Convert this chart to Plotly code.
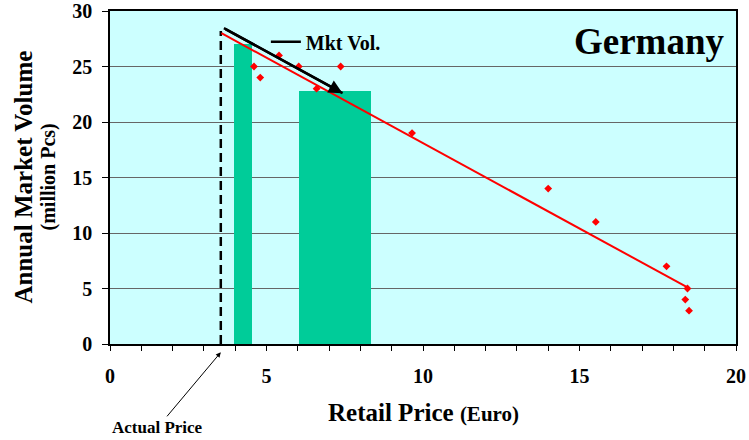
import plotly.graph_objects as go

# Observed retail price / market volume pairs
price = [4.6, 4.8, 5.4, 6.03, 6.6, 7.37, 9.65, 14.0, 15.52, 17.78, 18.45, 18.38, 18.5]
volume = [25, 24, 26, 25, 23, 25, 19, 14, 11, 7, 5, 4, 3]

# Linear trend fitted through the observations
trend_price = [3.56, 18.45]
trend_volume = [28.0, 5.1]

# Market volume segments (price band -> volume)
band_left = [3.96, 6.03]
band_right = [4.53, 8.33]
band_volume = [27.0, 22.8]

# Market volume arrow and current price
mkt_price = [3.64, 7.43]
mkt_volume = [28.45, 22.6]
actual_price = 3.54
actual_top = 28.2

SERIF = "Liberation Serif"
TEAL = "#00CC99"

band_center = [(a + b) / 2 for a, b in zip(band_left, band_right)]
band_width = [b - a for a, b in zip(band_left, band_right)]

fig = go.Figure()

fig.add_trace(go.Bar(
    x=band_center, y=band_volume, width=band_width,
    marker=dict(color=TEAL, line=dict(width=0)),
    showlegend=False, hoverinfo="skip",
))

fig.add_trace(go.Scatter(
    x=[actual_price, actual_price], y=[0, actual_top], mode="lines",
    line=dict(color="black", width=2.5, dash="9px,5px"),
    showlegend=False, hoverinfo="skip",
))

fig.add_trace(go.Scatter(
    x=trend_price, y=trend_volume, mode="lines",
    line=dict(color="#FF0000", width=2),
    showlegend=False,
))

fig.add_trace(go.Scatter(
    x=price, y=volume, mode="markers",
    marker=dict(symbol="diamond", size=6, color="#FF0000"),
    showlegend=False,
))

fig.add_trace(go.Scatter(
    x=mkt_price, y=mkt_volume, mode="lines",
    line=dict(color="black", width=2.5),
    name="<b>Mkt Vol.</b>", showlegend=True,
))

# arrowhead at the end of the market volume line
fig.add_annotation(
    x=mkt_price[1], y=mkt_volume[1], xref="x", yref="y",
    ax=mkt_price[0], ay=mkt_volume[0], axref="x", ayref="y",
    showarrow=True, arrowhead=2, arrowsize=1.1, arrowwidth=2.5,
    arrowcolor="black", text="",
)

fig.add_annotation(
    x=actual_price, y=-0.025, xref="x", yref="paper",
    ax=-63, ay=75, showarrow=True, arrowhead=2, arrowsize=1,
    arrowwidth=1, arrowcolor="black",
    text="<b>Actual Price</b>", font=dict(family=SERIF, size=17, color="black"),
)

fig.add_annotation(
    x=0.985, y=0.975, xref="paper", yref="paper",
    xanchor="right", yanchor="top", showarrow=False,
    text="<b>Germany</b>", font=dict(family=SERIF, size=37, color="black"),
)

# axis titles
fig.add_annotation(
    x=0, y=0.5, xref="paper", yref="paper", xshift=-87,
    xanchor="center", yanchor="middle", showarrow=False, textangle=-90,
    text="<b>Annual Market Volume</b>", font=dict(family=SERIF, size=25, color="black"),
)
fig.add_annotation(
    x=0, y=0.5, xref="paper", yref="paper", xshift=-62,
    xanchor="center", yanchor="middle", showarrow=False, textangle=-90,
    text="<b>(million Pcs)</b>", font=dict(family=SERIF, size=20, color="black"),
)
fig.add_annotation(
    x=0.5, y=0, xref="paper", yref="paper", yshift=-68,
    xanchor="center", yanchor="middle", showarrow=False,
    text="<b>Retail Price <span style='font-size:21px'>(Euro)</span></b>",
    font=dict(family=SERIF, size=25, color="black"),
)

fig.update_layout(
    width=749, height=440,
    margin=dict(l=110, r=13, t=11, b=96),
    paper_bgcolor="white", plot_bgcolor="#CCFFFF",
    font=dict(family=SERIF, color="black"),
    bargap=0,
    legend=dict(
        x=0.249, y=0.966, xanchor="left", yanchor="top",
        bgcolor="rgba(0,0,0,0)", itemwidth=30,
        font=dict(family=SERIF, size=20, color="black"),
    ),
)

fig.update_xaxes(
    range=[0, 20], dtick=5, tick0=0, automargin=False,
    ticks="outside", ticklen=5, tickcolor="black",
    minor=dict(dtick=1, ticks="outside", ticklen=5, tickcolor="black"),
    showgrid=False, zeroline=False,
    showline=True, linecolor="black", linewidth=1.5, mirror=True,
    tickfont=dict(family=SERIF, size=20, color="black"),
    tickprefix="<b>", ticksuffix="</b>",
    ticklabelstandoff=8, ticklabeloverflow="allow",
)

fig.update_yaxes(
    range=[0, 30], dtick=5, tick0=0, automargin=False,
    ticks="outside", ticklen=6, tickcolor="black",
    showgrid=True, gridcolor="#666666", gridwidth=1,
    zeroline=False,
    showline=True, linecolor="black", linewidth=1.5, mirror=True,
    tickfont=dict(family=SERIF, size=20, color="black"),
    tickprefix="<b>", ticksuffix="</b>",
    ticklabelstandoff=6, ticklabeloverflow="allow",
)

fig.write_html("out.html")
